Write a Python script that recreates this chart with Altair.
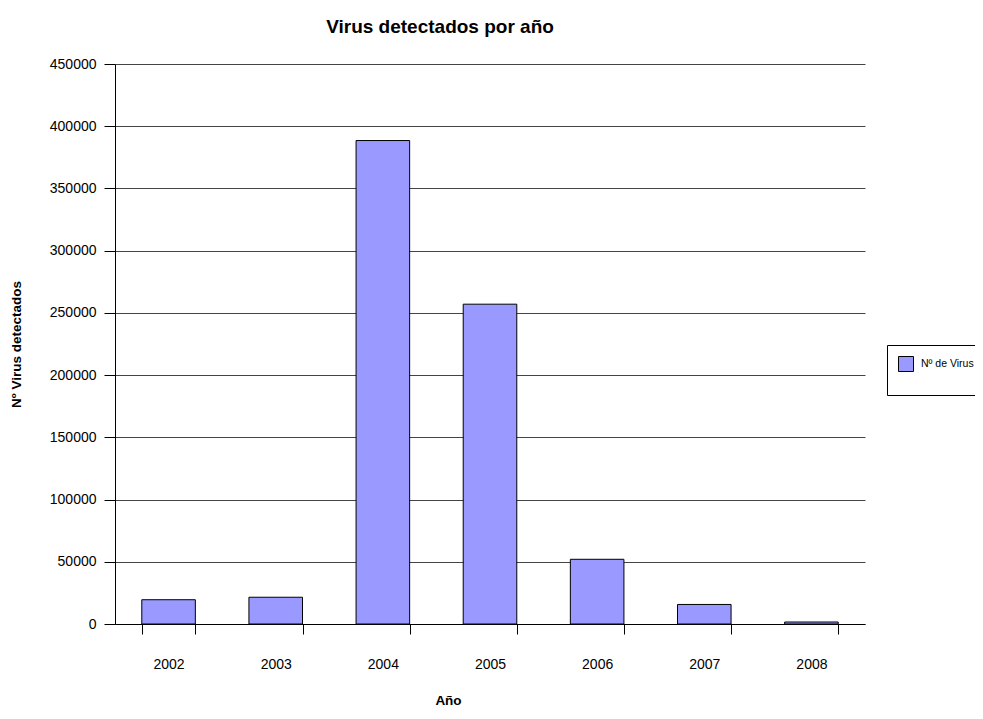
import altair as alt
import pandas as pd

years = ["2002", "2003", "2004", "2005", "2006", "2007", "2008"]
virus_counts = [19500, 21500, 388500, 257000, 52000, 15700, 1600]
series_name = ["Nº de Virus"] * len(years)
y_ticks = [0, 50000, 100000, 150000, 200000, 250000, 300000, 350000, 400000, 450000]

df = pd.DataFrame({"Año": years, "Virus": virus_counts, "Serie": series_name})

FONT = "Liberation Sans"

chart = alt.Chart(df).mark_bar(stroke="black", strokeWidth=1).encode(
    x=alt.X(
        "Año:N",
        sort=years,
        scale=alt.Scale(paddingInner=0.5, paddingOuter=0.25),
        axis=alt.Axis(
            title="Año",
            labelAngle=0,
            labelFontSize=14,
            labelColor="black",
            labelPadding=23,
            tickBand="extent",
            tickSize=10,
            tickColor="black",
            domainColor="black",
            titleFontSize=13.5,
            titleFontWeight="bold",
            titleColor="black",
            titleX=333,
            titleY=76,
            titleBaseline="middle",
            titleAlign="center",
            grid=False,
        ),
    ),
    y=alt.Y(
        "Virus:Q",
        scale=alt.Scale(domain=[0, 450000], nice=False),
        axis=alt.Axis(
            title="Nº Virus detectados",
            values=y_ticks,
            format="d",
            labelFontSize=14,
            labelColor="black",
            labelPadding=8,
            tickSize=11,
            tickColor="black",
            domainColor="black",
            gridColor="#444444",
            gridOpacity=1,
            titleFontSize=13.5,
            titleFontWeight="bold",
            titleColor="black",
            titleX=-99,
            titleY=280,
            titleAngle=270,
            titleAlign="center",
            titleBaseline="middle",
        ),
    ),
    color=alt.Color(
        "Serie:N",
        scale=alt.Scale(range=["#9999FF"]),
        legend=alt.Legend(
            title=" ",
            titleOrient="bottom",
            titleFontSize=10,
            titlePadding=0,
            orient="none",
            legendX=772,
            legendY=281,
            strokeColor="black",
            padding=11,
            symbolType="square",
            symbolSize=225,
            symbolStrokeColor="black",
            symbolStrokeWidth=1,
            labelFontSize=10.5,
            labelColor="black",
            labelOffset=7,
        ),
    ),
).properties(
    width=750,
    height=560,
    padding={"left": 107, "top": 56, "right": 110, "bottom": 82},
    autosize=alt.AutoSizeParams(type="none"),
    title=alt.TitleParams(
        "Virus detectados por año",
        fontSize=19,
        fontWeight="bold",
        color="black",
        anchor="middle",
        dx=-50,
        offset=20,
    ),
).configure(
    font=FONT,
).configure_view(
    stroke=None,
)

chart.save("out.html", embed_options={"renderer": "svg", "actions": False})
